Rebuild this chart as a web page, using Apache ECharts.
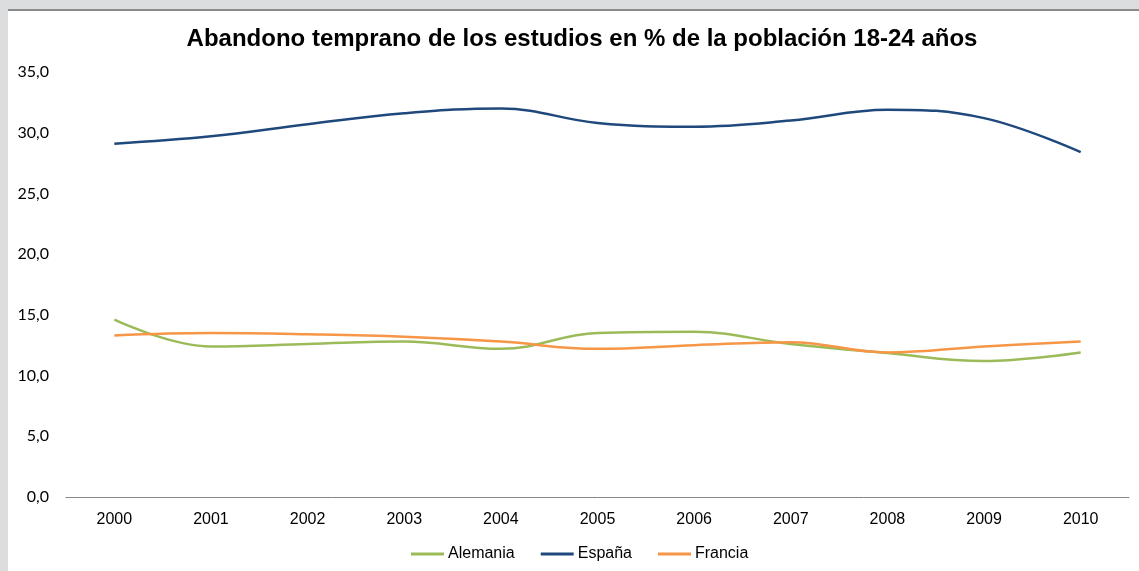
<!DOCTYPE html>
<html><head><meta charset="utf-8">
<script src="https://cdn.jsdelivr.net/npm/echarts@6/dist/echarts.min.js"></script>
<style>
html,body{margin:0;padding:0;background:#DCDDDF;width:1139px;height:571px;overflow:hidden;}
#panel{position:absolute;left:8px;top:9px;width:1131px;height:562px;background:#fff;border-top:2px solid #8a8a8a;box-sizing:border-box;}
#chart{position:absolute;left:0;top:0;width:1139px;height:571px;}
</style></head>
<body>
<div id="panel"></div>
<div id="chart"></div>
<script>
const years = ['2000','2001','2002','2003','2004','2005','2006','2007','2008','2009','2010'];
const alemania = [14.6, 12.4, 12.6, 12.8, 12.2, 13.5, 13.6, 12.6, 11.85, 11.2, 11.9];
const espana = [29.1, 29.7, 30.7, 31.6, 32.0, 30.8, 30.5, 31.0, 31.9, 31.2, 28.4];
const francia = [13.3, 13.5, 13.4, 13.2, 12.8, 12.2, 12.5, 12.75, 11.9, 12.4, 12.8];
const titleText = 'Abandono temprano de los estudios en % de la población 18-24 años';

const chart = echarts.init(document.getElementById('chart'), null, {renderer:'canvas'});
const mk = (name, data, color) => ({
  name, type:'line', data, smooth:0.4, symbol:'none',
  lineStyle:{color, width:2.5}, itemStyle:{color}
});
chart.setOption({
  backgroundColor:'transparent',
  animation:false,
  title:{text:titleText, left:577, top:22, textAlign:'center',
    textStyle:{fontFamily:'Liberation Sans, Arial', fontWeight:'bold', fontSize:24, color:'#000'}},
  grid:{left:66, right:10, top:72, bottom:74},
  legend:{bottom:4, left:406, itemWidth:33, itemHeight:3, itemGap:26,
    icon:'rect',
    textStyle:{fontFamily:'Liberation Sans, Arial', fontSize:16, color:'#000', padding:[0,0,0,-1]},
    data:['Alemania','España','Francia']},
  xAxis:{type:'category', data:years, boundaryGap:true,
    axisLine:{lineStyle:{color:'#868686', width:1}}, axisTick:{show:false},
    axisLabel:{fontFamily:'Liberation Sans, Arial', fontSize:16, color:'#000', margin:15}},
  yAxis:{type:'value', min:0, max:35, interval:5,
    axisLine:{show:false}, axisTick:{show:false}, splitLine:{show:false},
    axisLabel:{fontFamily:'Lato, Liberation Sans', fontSize:16, color:'#000', margin:17,
      formatter:v=>v.toFixed(1).replace('.',',')}},
  series:[mk('Alemania',alemania,'#9BBB59'), mk('España',espana,'#1F497D'), mk('Francia',francia,'#F79646')]
});
</script>
</body></html>
